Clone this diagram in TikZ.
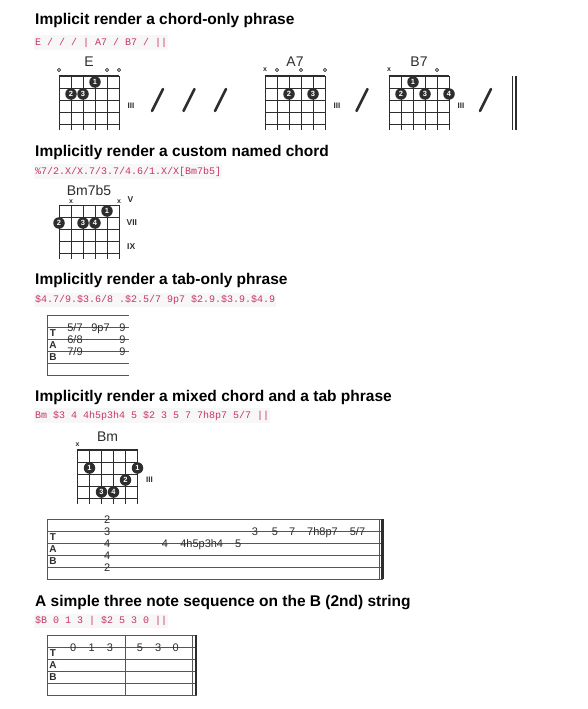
\documentclass[tikz,border=0pt]{standalone}
\usepackage{fontspec}
\setmainfont{Liberation Sans}
\setmonofont{Liberation Mono}
\definecolor{codepink}{RGB}{199,54,104}
\definecolor{ink}{RGB}{45,45,45}
\definecolor{tabgray}{RGB}{85,85,85}
\begin{document}
\begin{tikzpicture}[x=1pt,y=-1pt,line join=round,
	heading/.style={anchor=base west,inner sep=0pt,font=\bfseries\fontsize{15.5}{18}\selectfont},
	codeline/.style={anchor=west,inner xsep=1pt,inner ysep=2.5pt,fill=gray!6,text=codepink,font=\ttfamily\fontsize{10}{12}\selectfont},
	chordname/.style={anchor=base,inner sep=0pt,font=\fontsize{14}{16}\selectfont,text=ink},
	finger/.style={circle,fill=ink,text=white,inner sep=0pt,minimum size=11.5pt,font=\bfseries\fontsize{7.5}{8}\selectfont},
	openstr/.style={circle,draw=ink,line width=0.7pt,inner sep=0pt,minimum size=3.2pt},
	mutestr/.style={inner sep=0pt,font=\bfseries\fontsize{7}{7}\selectfont,text=ink},
	fretpos/.style={anchor=west,inner sep=0pt,font=\bfseries\fontsize{8}{8}\selectfont,text=ink},
	fretbig/.style={anchor=west,inner sep=0pt,font=\bfseries\fontsize{8.5}{9}\selectfont,text=ink},
	gridline/.style={draw=ink,line width=0.8pt},
	strum/.style={draw=ink,line width=2.6pt,line cap=round},
	tabline/.style={draw=tabgray,line width=0.8pt},
	tabnote/.style={anchor=base,inner sep=0pt,font=\fontsize{11}{12}\selectfont,text=ink},
	tablabel/.style={inner sep=0pt,font=\bfseries\fontsize{10}{10}\selectfont,text=ink}]
	\useasboundingbox (0,0) rectangle (588,709);
	% chord box: left x, top y, width of the top line
	\def\chordgrid#1#2#3{%
		\foreach \s in {0,...,5} \draw[gridline] (#1+12*\s,#2)--(#1+12*\s,#2+54);
		\foreach \f in {1,...,4} \draw[gridline] (#1,#2+12*\f)--(#1+60,#2+12*\f);
		\draw[draw=ink,line width=#3] (#1-0.4,#2)--(#1+60.4,#2);}
	% tab staff: name, left x, top y, right x
	\def\tabstaff#1#2#3#4{%
		\foreach \l in {0,...,5} \draw[tabline] (#2,#3+12*\l)--(#4,#3+12*\l);
		\draw[tabline] (#2,#3)--(#2,#3+60);
		\node[tablabel] (#1-T) at (#2+5.7,#3+18.5) {T};
		\node[tablabel] (#1-A) at (#2+5.7,#3+30.5) {A};
		\node[tablabel] (#1-B) at (#2+5.7,#3+42.5) {B};}
	
	% chord-only phrase
	\node[heading] (h1) at (35,24.5) {Implicit render a chord-only phrase};
	\node[codeline] (c1) at (34,42.5) {E / / / | A7 / B7 / ||};
	\chordgrid{59}{76}{2.6pt}
	\node[chordname] (E) at (89,66.7) {E};
	\foreach \x in {59,107,119} \node[openstr] (E-o\x) at (\x,70) {};
	\foreach \x/\y/\n in {95/82/1,71/94/2,83/94/3}
	\node[finger] (E-\n) at (\x,\y) {\n};
	\node[fretpos] (E-pos) at (127.5,106) {III};
	\foreach \c in {157.5,189,220.5}
	\draw[strum] (\c-5.5,111)--(\c+5.5,89);
	
	\chordgrid{265}{76}{2.6pt}
	\node[chordname] (A7) at (295,66.7) {A7};
	\node[mutestr] (A7-x) at (265,70) {x};
	\foreach \x in {277,301,325} \node[openstr] (A7-o\x) at (\x,70) {};
	\foreach \x/\y/\n in {289/94/2,313/94/3}
	\node[finger] (A7-\n) at (\x,\y) {\n};
	\node[fretpos] (A7-pos) at (333.5,106) {III};
	\draw[strum] (356.5,111)--(367.5,89);
	
	\chordgrid{389}{76}{2.6pt}
	\node[chordname] (B7) at (419,66.7) {B7};
	\node[mutestr] (B7-x) at (389,70) {x};
	\node[openstr] (B7-o) at (437,70) {};
	\foreach \x/\y/\n in {413/82/1,401/94/2,425/94/3,449/94/4}
	\node[finger] (B7-\n) at (\x,\y) {\n};
	\node[fretpos] (B7-pos) at (457.5,106) {III};
	\draw[strum] (480,111)--(491,89);
	\draw[draw=ink,line width=1pt] (512.5,76)--(512.5,130);
	\draw[draw=ink,line width=2.6pt] (515.8,76)--(515.8,130);
	
	% custom named chord
	\node[heading] (h2) at (35,156) {Implicitly render a custom named chord};
	\node[codeline] (c2) at (34,171.5) {\%7/2.X/X.7/3.7/4.6/1.X/X[Bm7b5]};
	\chordgrid{59}{205}{0.8pt}
	\node[chordname] (Bm7b5) at (89,195.7) {Bm7b5};
	\foreach \x in {71,119} \node[mutestr] (Bm7b5-x\x) at (\x,201.5) {x};
	\foreach \x/\y/\n in {107/211/1,59/223/2,83/223/3,95/223/4}
	\node[finger] (Bm7b5-\n) at (\x,\y) {\n};
	\node[fretbig] (pos-V) at (127.5,200) {V};
	\node[fretbig] (pos-VII) at (126.5,222.5) {VII};
	\node[fretbig] (pos-IX) at (127,246.5) {IX};
	
	% tab-only phrase
	\node[heading] (h3) at (35,284.5) {Implicitly render a tab-only phrase};
	\node[codeline] (c3) at (34,300) {\$4.7/9.\$3.6/8 .\$2.5/7 9p7 \$2.9.\$3.9.\$4.9};
	\tabstaff{t1}{47.3}{315}{129}
	\foreach \x/\y/\n in {75/327/5\slash7,75/339/6\slash8,75/351/7\slash9,100.5/327/9p7,122.5/327/9,122.5/339/9,122.5/351/9}
	\node[tabnote] at (\x,\y+4) {\n};
	
	% mixed chord and tab phrase
	\node[heading] (h4) at (35,401) {Implicitly render a mixed chord and a tab phrase};
	\node[codeline] (c4) at (34,415.5) {Bm \$3 4 4h5p3h4 5 \$2 3 5 7 7h8p7 5/7 ||};
	\chordgrid{77.5}{450}{2.6pt}
	\node[chordname] (Bm) at (107.5,441.7) {Bm};
	\node[mutestr] (Bm-x) at (77.5,444.3) {x};
	\foreach \x/\y/\n/\k in {89.5/468/1/a,137.5/468/1/b,125.5/480/2/c,101.5/492/3/d,113.5/492/4/e}
	\node[finger] (Bm-\k) at (\x,\y) {\n};
	\node[fretpos] (Bm-pos) at (146,480) {III};
	\tabstaff{t2}{47.3}{519}{383.3}
	\foreach \y/\n in {519/2,531/3,543/4,555/4,567/2}
	\node[tabnote] at (107.3,\y+4) {\n};
	\foreach \x/\y/\n in {165/543/4,201.7/543/4h5p3h4,238.3/543/5,255/531/3,275/531/5,292.3/531/7,322.5/531/7h8p7,357.5/531/5\slash7}
	\node[tabnote] at (\x,\y+4) {\n};
	\draw[tabline] (379.5,519)--(379.5,579);
	\draw[draw=ink,line width=2.6pt] (382.6,519)--(382.6,579);
	
	% three note sequence
	\node[heading] (h5) at (35,606) {A simple three note sequence on the B (2nd) string};
	\node[codeline] (c5) at (34,621) {\$B 0 1 3 | \$2 5 3 0 ||};
	\tabstaff{t3}{47.3}{635}{196.5}
	\foreach \x/\n in {73.3/0,91.7/1,110/3,140/5,158.3/3,175.7/0}
	\node[tabnote] at (\x,651) {\n};
	\draw[tabline] (125.7,635)--(125.7,695);
	\draw[tabline] (192.3,635)--(192.3,695);
	\draw[draw=ink,line width=2.6pt] (195.8,635)--(195.8,695);
\end{tikzpicture}
\end{document}
